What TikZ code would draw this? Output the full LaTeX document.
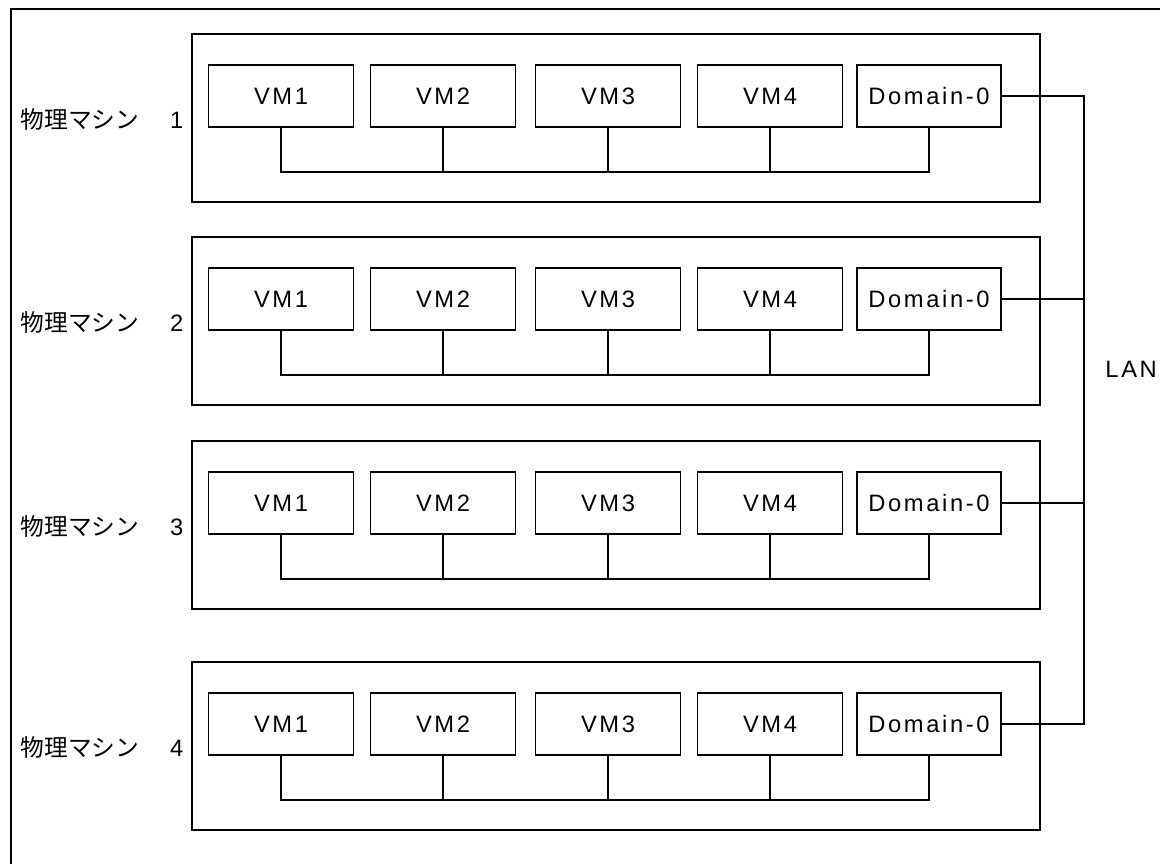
\documentclass[tikz,border=0pt]{standalone}
\usepackage{fontspec}
\setmainfont{Liberation Sans}[LetterSpace=11]
\newfontfamily\jpfont{Noto Sans CJK JP}

\tikzset{
    vmbox/.style={draw, minimum width=2.9cm, minimum height=1.24cm, inner sep=0pt},
    hostbox/.style={draw, minimum width=16.96cm, minimum height=3.36cm, inner sep=0pt},
    hostlabel/.style={anchor=east, inner sep=0pt}
}

\begin{document}
\begin{tikzpicture}[x=0.02cm, y=-0.02cm, line width=0.7pt, font=\fontsize{13.5}{15}\selectfont]
            \useasboundingbox (0,0) rectangle (1160,864);
            % outer frame, running off at the right and bottom
            \draw (1160,9) -- (11,9) -- (11,864);

            % one host per row: label, five guests and the internal bus
            \foreach \i/\ytop in {1/34, 2/237, 3/441, 4/662} {
                \node[hostbox] at (616,\ytop+84) (host\i) {};
                \node[hostlabel] at (184,\ytop+85) (label\i) {{\jpfont\fontsize{13.5}{15}\selectfont 物理マシン}\hspace{0.62cm}\i};
                \node[vmbox] at (281,\ytop+62) (vm\i-1) {VM1};
                \node[vmbox] at (443,\ytop+62) (vm\i-2) {VM2};
                \node[vmbox] at (608,\ytop+62) (vm\i-3) {VM3};
                \node[vmbox] at (770,\ytop+62) (vm\i-4) {VM4};
                \node[vmbox, minimum width=2.88cm] at (929,\ytop+62) (dom\i) {Domain-0};
                \coordinate (bus\i) at (0,\ytop+138);

                \draw (vm\i-1.south) -- (vm\i-1.south |- bus\i) -| (dom\i.south);
                \draw (vm\i-2.south) -- (vm\i-2.south |- bus\i);
                \draw (vm\i-3.south) -- (vm\i-3.south |- bus\i);
                \draw (vm\i-4.south) -- (vm\i-4.south |- bus\i);
            }

            % LAN between the Domain-0 nodes
            \coordinate (lan) at (1084,0);
            \node[anchor=west] at (1099,369) (lanlabel) {LAN};
            \draw (dom1.east) -- (dom1.east -| lan) -- (dom4.east -| lan) -- (dom4.east);
            \draw (dom2.east) -- (dom2.east -| lan);
            \draw (dom3.east) -- (dom3.east -| lan);
        \end{tikzpicture}
\end{document}
